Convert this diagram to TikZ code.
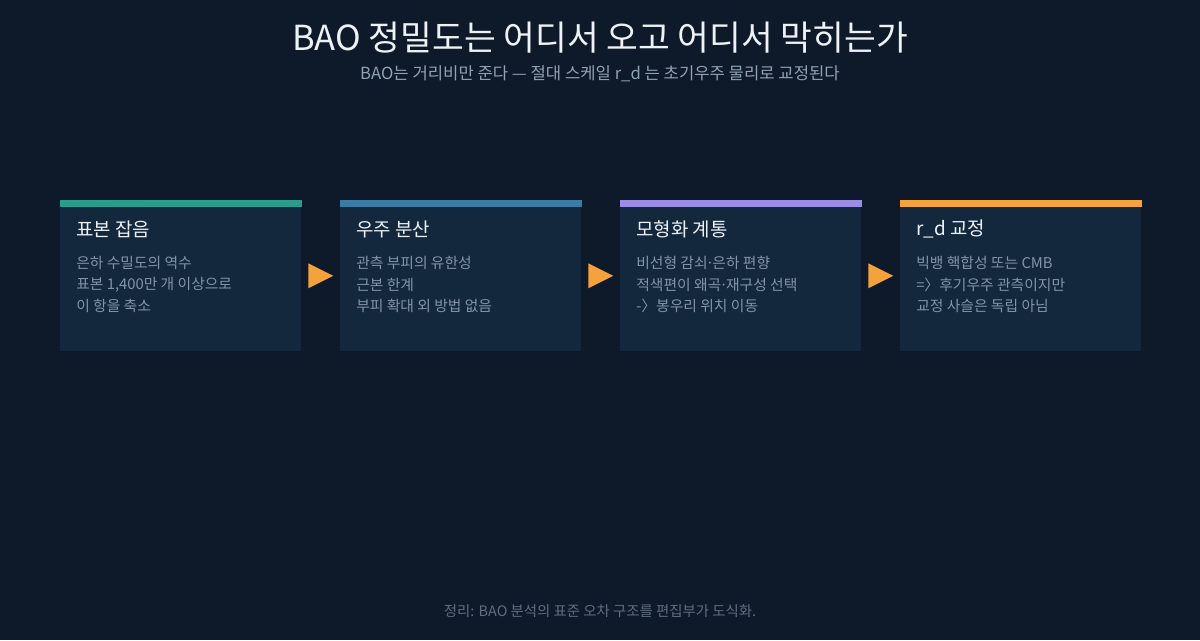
\documentclass[tikz,border=0pt]{standalone}
\usepackage{fontspec}
\setmainfont{Noto Sans CJK KR}
\usetikzlibrary{calc}
\definecolor{bgc}{HTML}{0E1A2A}
\definecolor{cardc}{HTML}{13283D}
\definecolor{tealc}{HTML}{2A9D8F}
\definecolor{bluec}{HTML}{3A7CA5}
\definecolor{purpc}{HTML}{9B8CE8}
\definecolor{orngc}{HTML}{F4A23C}
\definecolor{headc}{HTML}{EEF2F6}
\definecolor{subc}{HTML}{8FA2B6}
\definecolor{bodyc}{HTML}{8493A6}
\definecolor{footc}{HTML}{5E6E80}
\newcommand\mdot{\hspace{-0.12em}·\hspace{-0.12em}}
\begin{document}
\begin{tikzpicture}[x=0.75pt,y=-0.75pt,
  card/.style={rectangle,fill=cardc,anchor=north west,inner sep=0pt,
    minimum width=180.75pt,minimum height=113.25pt},
  head/.style={anchor=west,inner sep=0pt,text=headc,font=\fontsize{14.2}{17}\selectfont},
  body/.style={anchor=north west,inner sep=0pt,align=left,text=bodyc,
    font=\fontsize{11.1}{16.1}\selectfont},
  arr/.style={fill=orngc}]
\fill[bgc] (0,0) rectangle (1200,640);
\node[text=headc,font=\fontsize{25.9}{30}\selectfont] (title) at (600,38) {BAO 정밀도는 어디서 오고 어디서 막히는가};
\node[text=subc,font=\fontsize{12.5}{15}\selectfont] (sub) at (600,74) {BAO는 거리비만 준다 — 절대 스케일 r\_d 는 초기우주 물리로 교정된다};
% four stages
\foreach \i/\x/\c/\t/\a in {
  1/60/tealc/{표본 잡음}/{은하 수밀도의 역수\\표본 1,400만 개 이상으로\\이 항을 축소},
  2/340/bluec/{우주 분산}/{관측 부피의 유한성\\근본 한계\\부피 확대 외 방법 없음},
  3/620/purpc/{모형화 계통}/{비선형 감쇠\mdot 은하 편향\\적색편이 왜곡\mdot 재구성 선택\\-〉봉우리 위치 이동},
  4/900/orngc/{r\_d 교정}/{빅뱅 핵합성 또는 CMB\\=〉후기우주 관측이지만\\교정 사슬은 독립 아님}}
{
  \node[card] (c\i) at (\x,200) {};
  \fill[\c] (c\i.north west) rectangle ($(c\i.north east)+(0,7)$);
  \node[head] (h\i) at ($(c\i.north west)+(16,29)$) {\t};
  \node[body] (b\i) at ($(c\i.north west)+(16,56)$) {\a};
}
% arrows between stages
\foreach \i/\j in {1/2,2/3,3/4}{
  \coordinate (m\i) at ($(c\i.east)!0.5!(c\j.west)$);
  \fill[arr] ($(m\i)+(-12.5,-12.5)$) -- ($(m\i)+(12.5,0)$) -- ($(m\i)+(-12.5,12.5)$) -- cycle;
}
\node[text=footc,font=\fontsize{10.8}{13}\selectfont] (foot) at (600,611) {정리: BAO 분석의 표준 오차 구조를 편집부가 도식화.};
\end{tikzpicture}
\end{document}
